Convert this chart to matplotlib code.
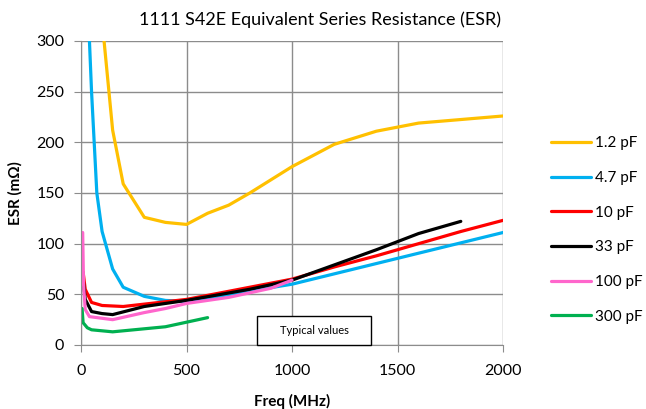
import matplotlib
matplotlib.use("Agg")
import matplotlib.pyplot as plt
from matplotlib.patches import Rectangle

plt.rcParams["font.family"] = ["Lato", "DejaVu Sans"]

# ESR curves (freq MHz, ESR mOhm)
f_1p2 = [100, 150, 200, 300, 400, 500, 600, 700, 800, 900, 1000, 1200, 1400, 1600, 2000]
esr_1p2 = [320, 212, 159, 126, 121, 119, 130, 138, 150, 163, 176, 198, 211, 219, 226]

f_4p7 = [30, 40, 50, 60, 75, 100, 150, 200, 300, 400, 500, 1000, 2000]
esr_4p7 = [360, 300, 250, 210, 150, 112, 75, 57, 48, 44, 43, 60, 111]

f_10 = [10, 20, 50, 100, 200, 500, 1000, 1200, 1400, 1600, 1800, 2000]
esr_10 = [72, 55, 42, 39, 38, 45, 65, 77, 88, 100, 112, 123]

f_33 = [10, 20, 50, 100, 150, 300, 500, 800, 1000, 1200, 1400, 1600, 1800]
esr_33 = [65, 45, 33, 31, 30, 38, 44, 55, 64, 79, 94, 110, 122]

f_100 = [8, 12, 20, 40, 150, 300, 400, 500, 700, 900, 1000]
esr_100 = [111, 60, 35, 28, 25, 32, 36, 41, 47, 56, 64]

f_300 = [5, 10, 30, 50, 150, 300, 400, 600]
esr_300 = [36, 22, 17, 15, 13, 16, 18, 27]

series = [
    ("1.2 pF", f_1p2, esr_1p2, "#FFC000"),
    ("4.7 pF", f_4p7, esr_4p7, "#00B0F0"),
    ("10 pF", f_10, esr_10, "#FF0000"),
    ("33 pF", f_33, esr_33, "#000000"),
    ("100 pF", f_100, esr_100, "#FF66CC"),
    ("300 pF", f_300, esr_300, "#00B050"),
]

fig = plt.figure(figsize=(6.46, 4.09), dpi=100)
ax = fig.add_axes([81 / 646, 1 - 345 / 409, 422 / 646, 304 / 409])

for label, x, y, c in series:
    ax.plot(x, y, color=c, lw=2.3, label=label, solid_capstyle="round")

ax.set_xlim(0, 2000)
ax.set_ylim(0, 300)
ax.set_xticks(range(0, 2001, 500))
ax.set_yticks(range(0, 301, 50))
ax.grid(True, color="#8c8c8c", lw=1)
ax.set_axisbelow(True)
for s in ["top", "right"]:
    ax.spines[s].set_visible(False)
for s in ["left", "bottom"]:
    ax.spines[s].set_color("#8c8c8c")
ax.tick_params(colors="#8c8c8c", labelcolor="black", labelsize=11.5, length=5)
ax.tick_params(axis="x", pad=9)
ax.tick_params(axis="y", pad=7)

fig.text(320 / 646, 1 - 20 / 409, "1111 S42E Equivalent Series Resistance (ESR)",
         fontsize=13, ha="center", va="center")
ax.set_xlabel("Freq (MHz)", fontsize=11, fontweight="bold", labelpad=11)
ax.set_ylabel("ESR (m\u03a9)", fontsize=11, fontweight="bold", labelpad=10)

# "Typical values" annotation box
ax.add_patch(Rectangle((834, 0), 540, 28.6, fc="white", ec="black", lw=1,
                       clip_on=False, zorder=5))
ax.text(1104, 14.3, "Typical values", fontsize=8, ha="center", va="center", zorder=6)

fig.legend(loc="center left", bbox_to_anchor=(551 / 646, 1 - 230 / 409),
           frameon=False, fontsize=11, handlelength=2.6, labelspacing=1.35,
           handletextpad=0.25, borderpad=0, borderaxespad=0)

fig.savefig("out.png", dpi=100)
